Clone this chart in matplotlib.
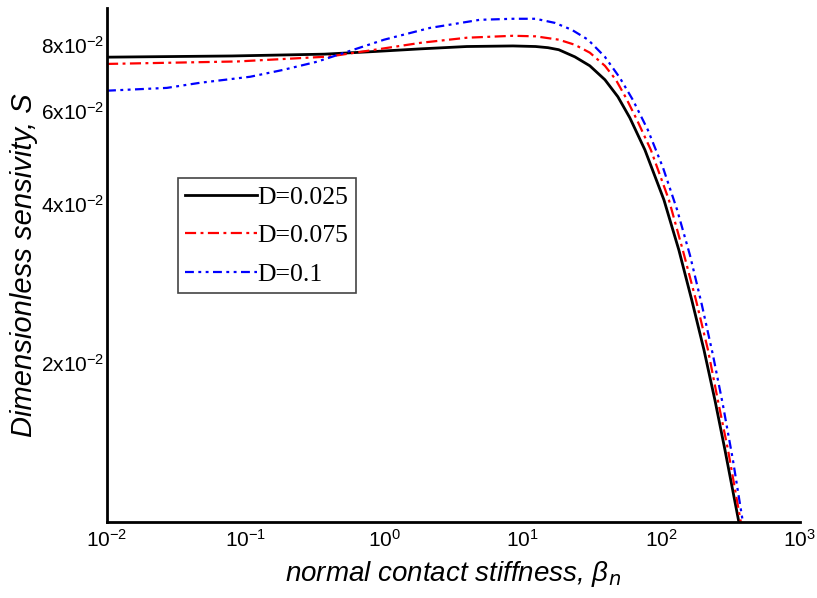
import matplotlib
matplotlib.use("Agg")
import matplotlib.pyplot as plt

# normal contact stiffness (beta_n) and dimensionless sensitivity S
beta_025 = [0.01, 0.08, 0.37, 0.86, 1.84, 3.95, 8.5, 12.4, 15.2, 18.2, 23.8, 30.5,
            39.2, 48.6, 59.3, 76.2, 104.5, 134, 166, 203, 244, 288, 363]
S_025 = [0.0758, 0.0762, 0.0768, 0.0777, 0.0786, 0.0794, 0.0796, 0.0794, 0.0790,
         0.0783, 0.0759, 0.0730, 0.0687, 0.0638, 0.0582, 0.0506, 0.0407, 0.0327,
         0.0263, 0.0212, 0.0170, 0.0137, 0.0100]

beta_075 = [0.01, 0.088, 0.4, 0.86, 1.84, 3.95, 8.5, 12.4, 18.2, 23.8, 30.5, 39.2,
            47.0, 55.6, 66.7, 84.1, 113.5, 143, 178, 217, 256, 303, 375]
S_075 = [0.0736, 0.0744, 0.0760, 0.0783, 0.0807, 0.0825, 0.0832, 0.0830, 0.0818,
         0.0800, 0.0773, 0.0730, 0.0687, 0.0635, 0.0577, 0.0506, 0.0407, 0.0327,
         0.0263, 0.0212, 0.0170, 0.0137, 0.0100]

beta_1 = [0.01, 0.027, 0.047, 0.108, 0.186, 0.327, 0.48, 1.0, 2.14, 4.9, 8.5,
          12.4, 17.1, 22.6, 29.6, 39.2, 50.2, 62.4, 80.0, 103, 130, 161, 196,
          236, 278, 329, 388]
S_1 = [0.0655, 0.0663, 0.0678, 0.0696, 0.0717, 0.0743, 0.0768, 0.0818, 0.0861,
       0.0892, 0.0896, 0.0896, 0.0880, 0.0854, 0.0818, 0.0759, 0.0693, 0.0629,
       0.0552, 0.0468, 0.0390, 0.0320, 0.0258, 0.0207, 0.0167, 0.0131, 0.0100]

labels = ["D=0.025", "D=0.075", "D=0.1"]

xticks = [1e-2, 1e-1, 1e0, 1e1, 1e2, 1e3]
xticklabels = [r"$\mathregular{10^{-2}}$", r"$\mathregular{10^{-1}}$",
               r"$\mathregular{10^{0}}$", r"$\mathregular{10^{1}}$",
               r"$\mathregular{10^{2}}$", r"$\mathregular{10^{3}}$"]
yticks = [0.02, 0.04, 0.06, 0.08]
yticklabels = [r"$\mathregular{2x10^{-2}}$", r"$\mathregular{4x10^{-2}}$",
               r"$\mathregular{6x10^{-2}}$", r"$\mathregular{8x10^{-2}}$"]

plt.rcParams["font.family"] = ["Liberation Sans", "DejaVu Sans"]

fig = plt.figure(figsize=(8.17, 5.98), dpi=100)
ax = fig.add_axes([0.131, 0.127, 0.848, 0.860])

ax.plot(beta_025, S_025, color="black", lw=2, label=labels[0])
ax.plot(beta_075, S_075, color="red", lw=1.6, linestyle=(0, (5, 2, 1.3, 2)),
        label=labels[1])
ax.plot(beta_1, S_1, color="blue", lw=1.6, linestyle=(0, (4, 2, 1.3, 2, 1.3, 2)),
        label=labels[2])

ax.set_xscale("log")
ax.set_yscale("log")
ax.set_xlim(1e-2, 1e3)
ax.set_ylim(0.01, 0.094)

ax.set_xticks(xticks)
ax.set_xticklabels(xticklabels)
ax.set_yticks(yticks)
ax.set_yticklabels(yticklabels)
ax.minorticks_off()
ax.tick_params(length=0, labelsize=15)
ax.tick_params(axis="y", pad=2)
ax.tick_params(axis="x", pad=5)

for s in ["top", "right"]:
    ax.spines[s].set_visible(False)
for s in ["left", "bottom"]:
    ax.spines[s].set_linewidth(2)

ax.set_xlabel(r"normal contact stiffness, $\mathregular{\beta_{\mathit{n}}}$",
              fontsize=20, style="italic", labelpad=6)
ax.set_ylabel("Dimensionless sensivity, S", fontsize=21, style="italic", labelpad=2)

leg = ax.legend(loc="upper left", bbox_to_anchor=(0.102, 0.669), borderaxespad=0,
                fancybox=False, framealpha=1, edgecolor="#444444",
                handlelength=2.8, handletextpad=0.0, borderpad=0.3,
                labelspacing=0.6,
                prop={"family": "Liberation Serif", "size": 18.5})
leg.get_frame().set_linewidth(1.2)

fig.savefig("out.png", dpi=100)
